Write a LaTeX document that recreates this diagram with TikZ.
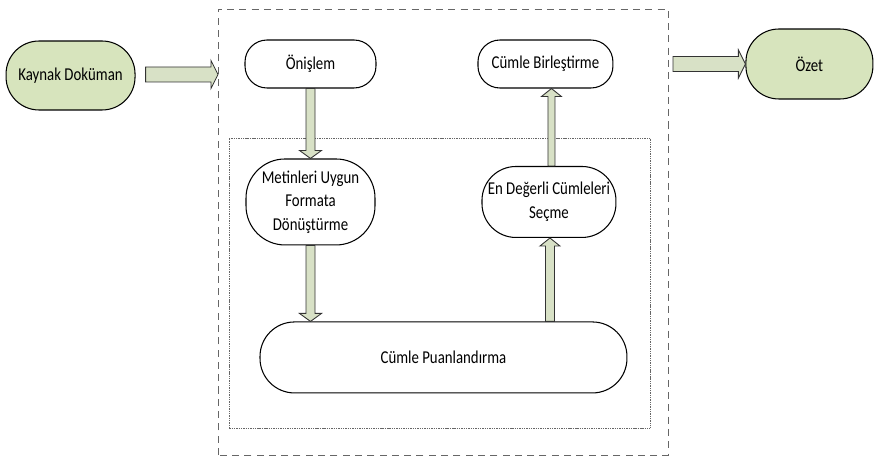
\documentclass[tikz,border=0pt]{standalone}
\usepackage{fontspec}
\setmainfont{Carlito}[FakeStretch=0.82]
\usetikzlibrary{calc}
\definecolor{leafgreen}{HTML}{D7E4BD}
\definecolor{arrowgreen}{HTML}{D8E1C6}
\tikzstyle{terminal} = [rectangle, rounded corners=0.6cm, inner sep=0pt, text centered, align=center, draw=black, line width=0.6pt, font=\fontsize{10.3}{13.4}\selectfont]
\tikzstyle{source} = [terminal, fill=leafgreen]
\tikzstyle{blockarrow} = [fill=arrowgreen, draw=black!80, line width=0.5pt, line join=miter]
\tikzstyle{outerbox} = [draw=black!60, line width=0.5pt, dash pattern=on 4pt off 3pt]
\tikzstyle{innerbox} = [draw=black!60, line width=0.4pt, dash pattern=on 0.6pt off 0.4pt]
% tail, tip, shaft half width, head half width, head length
\newcommand{\blockarrow}[5]{%
  \filldraw[blockarrow]
    ($(#1)!#3!90:(#2)$) --
    ($(#2)!#5!(#1)!#3!-90:(#1)$) --
    ($(#2)!#5!(#1)!#4!-90:(#1)$) --
    (#2) --
    ($(#2)!#5!(#1)!#4!90:(#1)$) --
    ($(#2)!#5!(#1)!#3!90:(#1)$) --
    ($(#1)!#3!-90:(#2)$) -- cycle;}
\begin{document}
\begin{tikzpicture}[x=0.02cm, y=0.02cm, node distance=2.76cm]
\useasboundingbox (0,0) rectangle (874,457);
% BOXES
\coordinate (outer-sw) at (218,2);
\coordinate (outer-ne) at (668,448);
\coordinate (inner-sw) at (229,29);
\coordinate (inner-ne) at (650,319);
\draw [outerbox] (outer-sw) rectangle (outer-ne);
\draw [innerbox] (inner-sw) rectangle (inner-ne);

% NODES
\node (onislem) [terminal, minimum width=2.62cm, minimum height=0.96cm, rounded corners=0.44cm] at (310.5,393) {Önişlem};
\node (metinleri) [terminal, below of=onislem, minimum width=2.58cm, minimum height=1.72cm, rounded corners=0.78cm] {Metinleri Uygun\\Formata\\Dönüştürme};
\node (puan) [terminal, below of=metinleri, xshift=2.66cm, yshift=-0.35cm, minimum width=7.34cm, minimum height=1.42cm, rounded corners=0.69cm] {Cümle Puanlandırma};

\node (birlestirme) [terminal, right of=onislem, xshift=1.94cm, minimum width=2.7cm, minimum height=0.96cm, rounded corners=0.44cm] {Cümle Birleştirme};
\node (secme) [terminal, below of=birlestirme, xshift=0.07cm, minimum width=2.68cm, minimum height=1.42cm, rounded corners=0.68cm] {En Değerli Cümleleri\\Seçme};

\node (kaynak) [source, left of=onislem, xshift=-2.04cm, yshift=-0.23cm, minimum width=2.58cm, minimum height=1.38cm, rounded corners=0.66cm] {Kaynak Doküman};
\node (ozet) [source, right of=birlestirme, xshift=2.52cm, minimum width=2.54cm, minimum height=1.4cm, rounded corners=0.66cm] {Özet};

% ARROWS
\coordinate (in-tail) at ([xshift=0.2cm, yshift=0.02cm]kaynak.east);
\coordinate (in-tip) at (in-tail -| outer-sw);
\coordinate (out-tail) at ([xshift=0.1cm]ozet.west -| outer-ne);
\coordinate (puan-in) at (metinleri.south |- puan.north);
\coordinate (puan-out) at ([xshift=0.02cm]secme.south |- puan.north);
\coordinate (secme-in) at ([xshift=0.02cm]secme.south);
\coordinate (secme-out) at ([xshift=0.05cm]secme.north);
\coordinate (birlestirme-in) at (secme-out |- birlestirme.south);

\blockarrow{in-tail}{in-tip}{0.15cm}{0.28cm}{0.14cm}
\blockarrow{out-tail}{ozet.west}{0.15cm}{0.28cm}{0.14cm}
\blockarrow{onislem.south}{metinleri.north}{0.09cm}{0.22cm}{0.16cm}
\blockarrow{metinleri.south}{puan-in}{0.09cm}{0.22cm}{0.16cm}
\blockarrow{puan-out}{secme-in}{0.09cm}{0.2cm}{0.16cm}
\blockarrow{secme-out}{birlestirme-in}{0.07cm}{0.2cm}{0.16cm}
\end{tikzpicture}
\end{document}
